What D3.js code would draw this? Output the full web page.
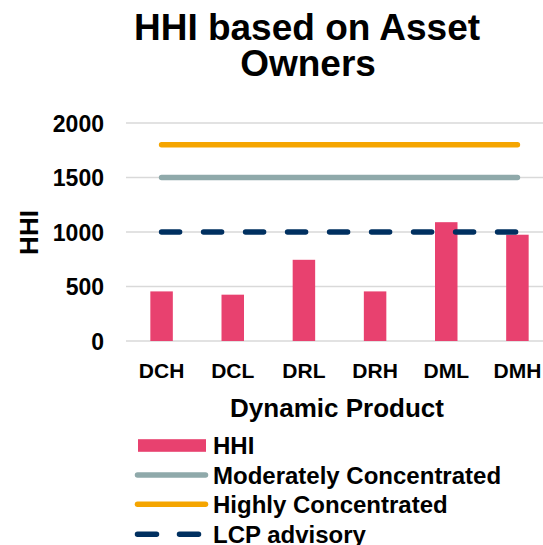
<!DOCTYPE html>
<html>
<head>
<meta charset="utf-8">
<script src="https://cdn.jsdelivr.net/npm/d3@7"></script>
<style>
  body { margin: 0; background: #fff; }
  text { font-family: "Liberation Sans", Arial, sans-serif; font-weight: bold; fill: #000; }
</style>
</head>
<body>
<div id="chart"></div>
<script>
// chart values
const categories = ['DCH', 'DCL', 'DRL', 'DRH', 'DML', 'DMH'];
const hhiValues = [455, 425, 745, 455, 1090, 975];
const moderateLevel = 1500;
const highLevel = 1800;
const advisoryLevel = 1000;
const yTicks = [0, 500, 1000, 1500, 2000];
const legendLabels = ['HHI', 'Moderately Concentrated', 'Highly Concentrated', 'LCP advisory'];

const colors = {
  bar: '#e8416f',
  moderate: '#8fa9aa',
  high: '#f5a500',
  advisory: '#003060',
  grid: '#d9d9d9',
};

const W = 543, H = 545;
const margin = { top: 123, left: 126, bottom: 204, right: -10 };

const svg = d3.select('#chart').append('svg')
  .attr('width', W)
  .attr('height', H);

const x = d3.scaleBand()
  .domain(categories)
  .range([margin.left, W - margin.right])
  .paddingInner(0.684)
  .paddingOuter(0.342);

const y = d3.scaleLinear()
  .domain([0, 2000])
  .range([H - margin.bottom, margin.top]);

// Title
svg.append('text')
  .attr('x', 307).attr('y', 40)
  .attr('text-anchor', 'middle')
  .style('font-size', '37px')
  .text('HHI based on Asset');
svg.append('text')
  .attr('x', 308).attr('y', 76)
  .attr('text-anchor', 'middle')
  .style('font-size', '37px')
  .text('Owners');

// Gridlines
svg.append('g')
  .selectAll('line')
  .data(yTicks)
  .enter()
  .append('line')
  .attr('x1', margin.left)
  .attr('x2', W - margin.right)
  .attr('y1', (d) => y(d))
  .attr('y2', (d) => y(d))
  .attr('stroke', colors.grid)
  .attr('stroke-width', 1.5);

// Y axis labels
const yAxis = d3.axisLeft(y).tickValues(yTicks).tickFormat(d3.format('d')).tickSize(0).tickPadding(0);
svg.append('g')
  .attr('transform', 'translate(104,0)')
  .call(yAxis)
  .call((g) => g.select('.domain').remove())
  .call((g) => g.selectAll('text')
    .style('font-size', '23px')
    .attr('dy', '0.36em'));

// Y axis title
svg.append('text')
  .attr('transform', 'translate(37.5,232.5) rotate(-90)')
  .attr('text-anchor', 'middle')
  .style('font-size', '26px')
  .text('HHI');

// Bars
svg.append('g')
  .selectAll('rect')
  .data(hhiValues)
  .enter()
  .append('rect')
  .attr('x', (d, i) => x(categories[i]))
  .attr('width', x.bandwidth())
  .attr('y', (d) => y(d))
  .attr('height', (d) => y(0) - y(d))
  .attr('fill', colors.bar);

// Threshold lines spanning first to last category centre
const x0 = x(categories[0]) + x.bandwidth() / 2;
const x1 = x(categories[categories.length - 1]) + x.bandwidth() / 2;
const lines = [
  { value: moderateLevel, color: colors.moderate, dash: null },
  { value: highLevel, color: colors.high, dash: null },
  { value: advisoryLevel, color: colors.advisory, dash: '18,24' },
];
svg.append('g')
  .selectAll('line')
  .data(lines)
  .enter()
  .append('line')
  .attr('x1', x0)
  .attr('x2', x1)
  .attr('y1', (d) => y(d.value))
  .attr('y2', (d) => y(d.value))
  .attr('stroke', (d) => d.color)
  .attr('stroke-width', 5.5)
  .attr('stroke-linecap', 'round')
  .attr('stroke-dasharray', (d) => d.dash);

// X axis labels
const xAxis = d3.axisBottom(x).tickSize(0).tickPadding(0);
svg.append('g')
  .attr('transform', 'translate(0,378)')
  .call(xAxis)
  .call((g) => g.select('.domain').remove())
  .call((g) => g.selectAll('text')
    .attr('dy', 0)
    .attr('y', 0)
    .style('font-size', '21px'));

// X axis title
svg.append('text')
  .attr('x', 337).attr('y', 417)
  .attr('text-anchor', 'middle')
  .style('font-size', '26px')
  .text('Dynamic Product');

// Legend
const legend = svg.append('g');
const rowY = [445.5, 475, 504.3, 534.3];
legendLabels.forEach((label, i) => {
  const g = legend.append('g').attr('transform', `translate(0,${rowY[i]})`);
  if (i === 0) {
    g.append('rect')
      .attr('x', 138).attr('y', -6.3)
      .attr('width', 68).attr('height', 12.6)
      .attr('fill', colors.bar);
  } else {
    const l = lines[i - 1];
    g.append('line')
      .attr('x1', 137.5).attr('x2', 205.5)
      .attr('y1', 0).attr('y2', 0)
      .attr('stroke', l.color)
      .attr('stroke-width', 5.5)
      .attr('stroke-linecap', 'round')
      .attr('stroke-dasharray', l.dash ? '19,23' : null);
  }
  g.append('text')
    .attr('x', 213)
    .attr('y', 8.8)
    .style('font-size', '24px')
    .text(label);
});
</script>
</body>
</html>
